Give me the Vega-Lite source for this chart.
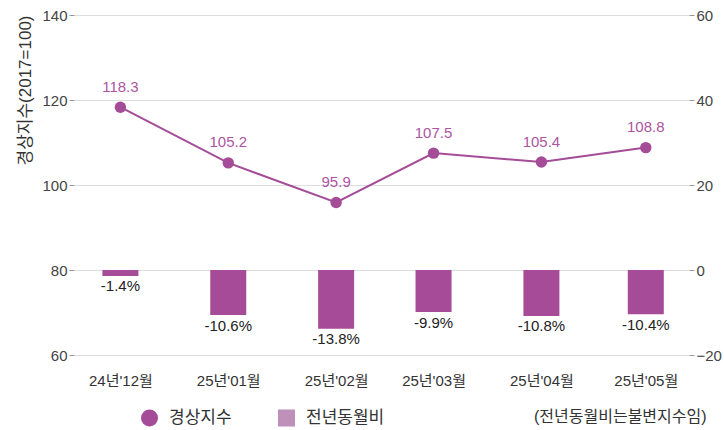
{
  "$schema": "https://vega.github.io/schema/vega-lite/v6.json",
  "width": 615,
  "height": 340,
  "autosize": "none",
  "padding": {"left": 74, "top": 15, "right": 35, "bottom": 75},
  "background": "white",
  "config": {
    "font": "Liberation Sans, Noto Sans CJK KR",
    "view": {"stroke": null},
    "axis": {"labelFont": "Liberation Sans, Noto Sans CJK KR", "titleFont": "Liberation Sans, Noto Sans CJK KR"}
  },
  "data": {
    "values": [
      {"date": "2024-12-01", "series": "경상지수", "value": 118.3, "label": "118.3"},
      {"date": "2025-01-01", "series": "경상지수", "value": 105.2, "label": "105.2"},
      {"date": "2025-02-01", "series": "경상지수", "value": 95.9, "label": "95.9"},
      {"date": "2025-03-01", "series": "경상지수", "value": 107.5, "label": "107.5"},
      {"date": "2025-04-01", "series": "경상지수", "value": 105.4, "label": "105.4"},
      {"date": "2025-05-01", "series": "경상지수", "value": 108.8, "label": "108.8"},
      {"date": "2024-12-01", "series": "전년동월비", "value": -1.4, "label": "-1.4%"},
      {"date": "2025-01-01", "series": "전년동월비", "value": -10.6, "label": "-10.6%"},
      {"date": "2025-02-01", "series": "전년동월비", "value": -13.8, "label": "-13.8%"},
      {"date": "2025-03-01", "series": "전년동월비", "value": -9.9, "label": "-9.9%"},
      {"date": "2025-04-01", "series": "전년동월비", "value": -10.8, "label": "-10.8%"},
      {"date": "2025-05-01", "series": "전년동월비", "value": -10.4, "label": "-10.4%"}
    ]
  },
  "encoding": {
    "x": {
      "field": "date",
      "type": "temporal",
      "scale": {
        "type": "utc",
        "padding": 0,
        "domain": [
          {"year": 2024, "month": 11, "date": 17, "hours": 16, "utc": true},
          {"year": 2025, "month": 5, "date": 13, "hours": 10, "utc": true}
        ]
      },
      "axis": {
        "title": null,
        "grid": false,
        "domain": false,
        "ticks": false,
        "tickCount": {"interval": "month", "step": 1},
        "labelExpr": "utcFormat(datum.value, '%y') + '년\\'' + utcFormat(datum.value, '%m') + '월'",
        "labelFontSize": 15,
        "labelColor": "#333333",
        "labelPadding": 18,
        "labelFlush": false
      }
    }
  },
  "layer": [
    {
      "transform": [{"filter": "datum.series === '전년동월비'"}],
      "encoding": {
        "y": {
          "field": "value",
          "type": "quantitative",
          "scale": {"domain": [-20, 60], "nice": false, "zero": false},
          "axis": {
            "orient": "right",
            "title": null,
            "values": [-20, 0, 20, 40, 60],
            "grid": false,
            "domain": false,
            "tickColor": "#999999",
            "tickSize": 5,
            "labelPadding": 2,
            "labelFontSize": 15,
            "labelColor": "#444444"
          }
        }
      },
      "layer": [
        {
          "mark": {"type": "bar", "width": 36, "color": "#a64b97"},
          "encoding": {"y2": {"datum": 0}}
        },
        {
          "mark": {"type": "text", "baseline": "alphabetic", "dy": 15.5, "fontSize": 15, "color": "#222222"},
          "encoding": {"text": {"field": "label"}}
        }
      ]
    },
    {
      "transform": [{"filter": "datum.series === '경상지수'"}],
      "encoding": {
        "y": {
          "field": "value",
          "type": "quantitative",
          "scale": {"domain": [60, 140], "nice": false, "zero": false},
          "axis": {
            "orient": "left",
            "title": "경상지수(2017=100)",
            "titleFontSize": 17,
            "titleFontWeight": "normal",
            "titleColor": "#333333",
            "titleAnchor": "end",
            "titlePadding": 7,
            "values": [60, 80, 100, 120, 140],
            "grid": true,
            "gridColor": "#dddddd",
            "domain": false,
            "tickColor": "#999999",
            "tickSize": 5,
            "labelPadding": 2,
            "labelFontSize": 15,
            "labelColor": "#444444"
          }
        }
      },
      "layer": [
        {
          "mark": {"type": "line", "color": "#a44c98", "strokeWidth": 2}
        },
        {
          "mark": {"type": "point", "filled": true, "size": 130, "opacity": 1},
          "encoding": {
            "color": {
              "field": "series",
              "type": "nominal",
              "scale": {"domain": ["경상지수", "전년동월비"], "range": ["#a44c98", "#bf90ba"]},
              "legend": {
                "orient": "none",
                "legendX": 66,
                "legendY": 393,
                "direction": "horizontal",
                "title": "(전년동월비는불변지수임)",
                "titleOrient": "right",
                "titlePadding": 150,
                "titleFontSize": 16,
                "titleFontWeight": "normal",
                "titleColor": "#333333",
                "titleBaseline": "middle",
                "labelFontSize": 17,
                "labelColor": "#333333",
                "labelOffset": 10,
                "columnPadding": 45,
                "symbolSize": 290,
                "symbolOpacity": 1,
                "encode": {
                  "symbols": {
                    "update": {
                      "shape": {"signal": "datum.value === '전년동월비' ? 'square' : 'circle'"}
                    }
                  }
                }
              }
            }
          }
        },
        {
          "mark": {"type": "text", "baseline": "alphabetic", "dy": -15.5, "fontSize": 15, "color": "#ad55a2"},
          "encoding": {"text": {"field": "label"}}
        }
      ]
    }
  ],
  "resolve": {"scale": {"y": "independent"}, "axis": {"y": "independent"}}
}
